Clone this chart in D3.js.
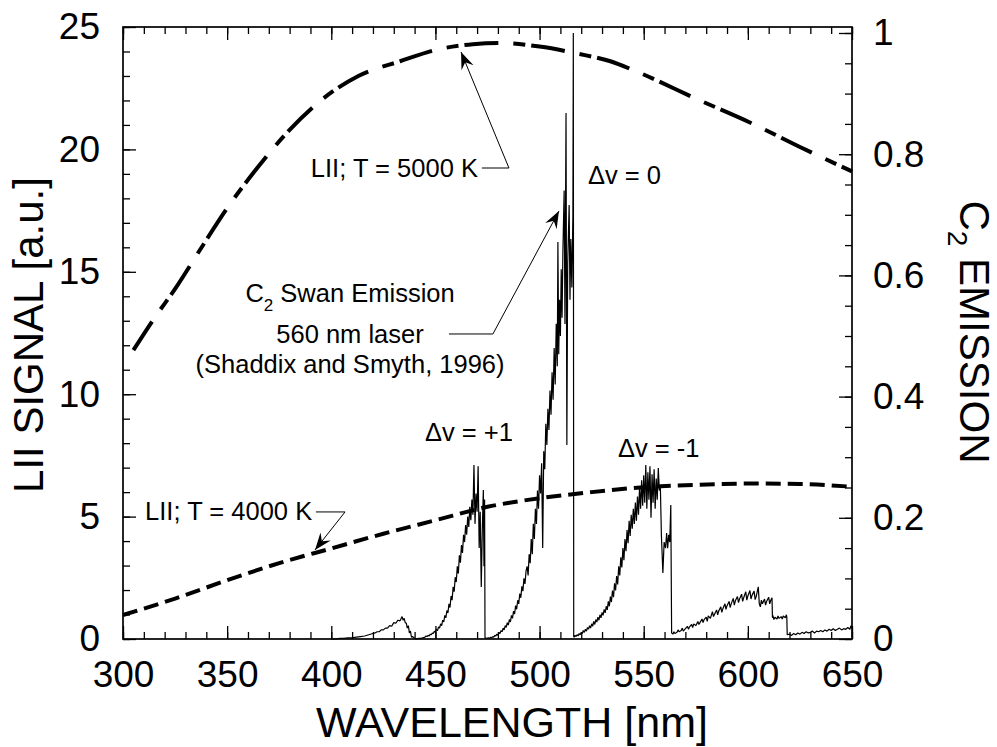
<!DOCTYPE html>
<html>
<head>
<meta charset="utf-8">
<script src="https://cdn.jsdelivr.net/npm/d3@7"></script>
<style>
  body { margin: 0; background: #fff; }
  text { font-family: "Liberation Sans", Arial, sans-serif; fill: #000; }
</style>
</head>
<body>
<div id="chart"></div>
<script>
// LII curves (left axis, a.u.)
var lii5000 = [[305, 11.8], [315, 13.1], [325, 14.3], [337, 15.9], [350, 17.6], [365, 19.3], [380, 20.8],
  [395, 22.0], [413, 23.0], [433, 23.6], [452, 24.1], [468, 24.3], [481, 24.35], [500, 24.2], [519, 23.9],
  [534, 23.6], [546, 23.2], [577, 22.0], [601, 21.1], [625, 20.1], [650, 19.1]];

var lii4000 = [[300, 0.98], [325, 1.65], [350, 2.4], [375, 3.1], [400, 3.7], [425, 4.3], [450, 4.85],
  [475, 5.4], [500, 5.75], [525, 6.0], [550, 6.2], [575, 6.3], [600, 6.35], [625, 6.33], [650, 6.22]];

// C2 Swan emission spectrum (right axis), split by band
var bandPlus1 = [[400, 0.000], [402, 0.000], [404, 0.001], [406, 0.001], [408, 0.002], [410, 0.002], [412, 0.003],
  [414, 0.004], [416, 0.005], [418, 0.007], [420, 0.009], [421, 0.010], [422, 0.012], [423, 0.012], [424, 0.015],
  [425, 0.015], [426, 0.018], [427, 0.018], [428, 0.022], [429, 0.021], [430, 0.027], [431, 0.026], [432, 0.031],
  [433, 0.030], [434, 0.037], [434.5, 0.031], [435, 0.034], [435.5, 0.027], [436, 0.026], [436.5, 0.018],
  [437, 0.022], [437.5, 0.010], [438, 0.013], [438.5, 0.003], [439, 0.004], [440, 0.001], [441, 0.000],
  [442, 0.001], [443, 0.001], [444, 0.002], [445, 0.003], [445.5, 0.005], [446, 0.004], [446.5, 0.006],
  [447, 0.005], [447.5, 0.008], [448, 0.007], [448.5, 0.010], [449, 0.009], [449.5, 0.013], [450, 0.011],
  [450.5, 0.016], [451, 0.014], [451.5, 0.020], [452, 0.018], [452.5, 0.025], [453, 0.022], [453.5, 0.031],
  [454, 0.028], [454.5, 0.039], [455, 0.035], [455.5, 0.047], [456, 0.043], [456.5, 0.058], [457, 0.052],
  [457.5, 0.071], [458, 0.064], [458.5, 0.086], [459, 0.078], [459.5, 0.102], [460, 0.094], [460.5, 0.120],
  [461, 0.108], [461.5, 0.138], [462, 0.126], [462.5, 0.155], [463, 0.142], [463.5, 0.172], [464, 0.160],
  [464.5, 0.188], [465, 0.172], [465.5, 0.202], [466, 0.185], [466.5, 0.218], [467, 0.196], [467.5, 0.230],
  [468, 0.205], [468.5, 0.287], [469, 0.190], [469.5, 0.240], [470, 0.210], [470.5, 0.285], [471, 0.150],
  [471.5, 0.210], [472, 0.086], [472.5, 0.180], [473, 0.246], [473.3, 0.120], [473.6, 0.230], [473.8, 0.002]];

var bandZero = [[474.5, 0.001], [475.5, 0.002], [476, 0.001], [476.5, 0.003], [477, 0.002], [477.5, 0.004],
  [478, 0.003], [478.5, 0.006], [479, 0.005], [479.5, 0.008], [480, 0.006], [480.5, 0.011], [481, 0.009],
  [481.5, 0.014], [482, 0.012], [482.5, 0.018], [483, 0.015], [483.5, 0.022], [484, 0.019], [484.5, 0.027],
  [485, 0.023], [485.5, 0.032], [486, 0.028], [486.5, 0.039], [487, 0.034], [487.5, 0.046], [488, 0.041],
  [488.5, 0.055], [489, 0.049], [489.5, 0.064], [490, 0.058], [490.5, 0.075], [491, 0.068], [491.5, 0.087],
  [492, 0.079], [492.5, 0.100], [493, 0.091], [493.5, 0.112], [494, 0.120], [494.5, 0.105], [495, 0.140],
  [495.5, 0.125], [496, 0.165], [496.5, 0.140], [497, 0.190], [497.5, 0.165], [498, 0.215], [498.5, 0.190],
  [499, 0.245], [499.5, 0.215], [500, 0.270], [500.5, 0.240], [501, 0.290], [501.5, 0.150], [502, 0.310],
  [502.5, 0.280], [503, 0.355], [503.5, 0.320], [504, 0.380], [504.5, 0.345], [505, 0.410], [505.5, 0.370],
  [506, 0.440], [506.5, 0.395], [507, 0.480], [507.5, 0.420], [508, 0.520], [508.5, 0.450], [508.8, 0.655],
  [509.2, 0.470], [509.6, 0.560], [510, 0.500], [510.4, 0.610], [510.8, 0.530], [511.2, 0.640], [511.8, 0.740],
  [512.2, 0.520], [512.7, 0.868], [513.1, 0.320], [513.5, 0.620], [514.2, 0.716], [514.6, 0.560], [515, 0.660],
  [515.5, 0.580], [516, 0.700], [516.2, 1.000], [516.4, 0.004]];

var bandMinus1 = [[516.6, 0.003], [517, 0.006], [517.5, 0.004], [518, 0.007], [518.5, 0.005], [519, 0.009],
  [519.5, 0.007], [520, 0.011], [520.5, 0.009], [521, 0.014], [521.5, 0.011], [522, 0.016], [522.5, 0.013],
  [523, 0.019], [523.5, 0.016], [524, 0.022], [524.5, 0.018], [525, 0.025], [525.5, 0.021], [526, 0.029],
  [526.5, 0.024], [527, 0.032], [527.5, 0.028], [528, 0.036], [528.5, 0.031], [529, 0.040], [529.5, 0.035],
  [530, 0.044], [530.5, 0.039], [531, 0.049], [531.5, 0.043], [532, 0.054], [532.5, 0.048], [533, 0.062],
  [533.5, 0.054], [534, 0.070], [534.5, 0.061], [535, 0.080], [535.5, 0.069], [536, 0.092], [536.5, 0.080],
  [537, 0.104], [537.5, 0.090], [538, 0.120], [538.5, 0.105], [539, 0.135], [539.5, 0.118], [540, 0.150],
  [540.5, 0.130], [541, 0.165], [541.5, 0.145], [542, 0.180], [542.5, 0.158], [543, 0.195], [543.5, 0.170],
  [544, 0.205], [544.5, 0.182], [545, 0.215], [545.5, 0.190], [546, 0.225], [546.5, 0.195], [547, 0.235],
  [547.5, 0.205], [548, 0.250], [548.5, 0.215], [549, 0.262], [549.5, 0.220], [550, 0.270], [550.5, 0.225],
  [551, 0.287], [551.5, 0.215], [552, 0.275], [552.5, 0.230], [553, 0.285], [553.5, 0.200], [554, 0.272],
  [554.5, 0.225], [555, 0.280], [555.5, 0.215], [556, 0.265], [556.5, 0.230], [557, 0.282], [557.5, 0.245],
  [558, 0.250], [558.5, 0.170], [559.2, 0.109], [559.8, 0.160], [560.5, 0.150], [561, 0.175], [561.5, 0.150],
  [562, 0.172], [562.5, 0.160], [563, 0.221], [563.4, 0.010]];

var bandTail = [[564, 0.008], [564.5, 0.012], [565, 0.009], [566, 0.011], [566.5, 0.015], [567, 0.012],
  [568, 0.014], [568.5, 0.018], [569, 0.013], [570, 0.017], [571, 0.021], [571.5, 0.016], [572, 0.020],
  [573, 0.024], [573.5, 0.019], [574, 0.025], [575, 0.022], [576, 0.029], [576.5, 0.024], [577, 0.027],
  [578, 0.033], [578.5, 0.027], [579, 0.032], [580, 0.036], [580.5, 0.029], [581, 0.038], [582, 0.034],
  [583, 0.045], [583.5, 0.037], [584, 0.041], [585, 0.048], [585.5, 0.040], [586, 0.046], [587, 0.053],
  [587.5, 0.044], [588, 0.050], [589, 0.058], [589.5, 0.049], [590, 0.055], [591, 0.062], [591.5, 0.052],
  [592, 0.058], [593, 0.067], [593.5, 0.056], [594, 0.063], [595, 0.070], [595.5, 0.060], [596, 0.066],
  [597, 0.074], [597.5, 0.062], [598, 0.068], [599, 0.078], [599.5, 0.064], [600, 0.071], [601, 0.080],
  [601.5, 0.066], [602, 0.072], [603, 0.079], [603.5, 0.065], [604, 0.070], [605, 0.086], [605.5, 0.058],
  [606, 0.053], [606.5, 0.064], [607, 0.058], [608, 0.066], [608.5, 0.056], [609, 0.062], [610, 0.069],
  [610.5, 0.058], [611, 0.064], [611.6, 0.068], [611.8, 0.035], [612, 0.039], [612.5, 0.032], [613, 0.036],
  [614, 0.033], [614.5, 0.038], [615, 0.034], [616, 0.037], [616.5, 0.033], [617, 0.038], [618, 0.035],
  [618.5, 0.040], [618.7, 0.036], [618.9, 0.007], [620, 0.008], [621, 0.006], [622, 0.009], [623, 0.007],
  [624, 0.010], [625, 0.008], [626, 0.011], [627, 0.009], [628, 0.012], [629, 0.010], [630, 0.011],
  [631, 0.013], [632, 0.010], [633, 0.013], [634, 0.012], [635, 0.014], [636, 0.012], [637, 0.015],
  [638, 0.013], [639, 0.016], [640, 0.014], [641, 0.017], [642, 0.014], [643, 0.016], [644, 0.018],
  [645, 0.015], [646, 0.017], [647, 0.016], [648, 0.019], [649, 0.016], [649.5, 0.022], [650, 0.018]];

// tick values
var xMajor = [300, 350, 400, 450, 500, 550, 600, 650];
var yLeftMajor = [0, 5, 10, 15, 20, 25];
var yRightMajor = [0, 0.2, 0.4, 0.6, 0.8, 1];

// annotations, placed in data coordinates (wavelength, left-axis value)
var notes = [
  { text: "LII; T = 5000 K", x: 470.4, y: 18.87, anchor: "end" },
  { text: "LII; T = 4000 K", x: 310.6, y: 4.86, anchor: "start" },
  { text: "560 nm laser", x: 409, y: 12.09, anchor: "middle" },
  { text: "(Shaddix and Smyth, 1996)", x: 409, y: 10.87, anchor: "middle" },
  { text: "\u0394v = +1", x: 445, y: 8.09, anchor: "start" },
  { text: "\u0394v = 0", x: 523.2, y: 18.59, anchor: "start" },
  { text: "\u0394v = -1", x: 537.6, y: 7.43, anchor: "start" }
];
var leaders = [
  [[472.3, 19.24], [485.3, 19.24], [462.3, 23.98]],
  [[392.6, 5.19], [406.6, 5.19], [392.2, 3.64]],
  [[456.5, 12.46], [477.6, 12.46], [509.3, 17.48]]
];

var margin = { top: 27, right: 145, bottom: 108, left: 123 },
    width = 997 - margin.left - margin.right,
    height = 747 - margin.top - margin.bottom;

var svg = d3.select("#chart")
    .append("svg")
    .attr("width", 997)
    .attr("height", 747)
    .append("g")
    .attr("transform", "translate(" + margin.left + "," + margin.top + ")");

var x = d3.scaleLinear().domain([300, 650]).range([0, width]);
var yL = d3.scaleLinear().domain([0, 25]).range([height, 0]);
var yR = d3.scaleLinear().domain([0, 1]).range([height, 6]);

var fmtR = function (d) { return (d === 0 || d === 1) ? String(d) : d.toFixed(1); };

// minor ticks
svg.append("g").attr("class", "ax")
    .attr("transform", "translate(0," + height + ")")
    .call(d3.axisBottom(x).tickValues(d3.range(300, 651, 10)).tickSize(-7).tickSizeOuter(0).tickFormat(""));
svg.append("g").attr("class", "ax")
    .call(d3.axisTop(x).tickValues(d3.range(300, 651, 10)).tickSize(-7).tickSizeOuter(0).tickFormat(""));
svg.append("g").attr("class", "ax")
    .call(d3.axisLeft(yL).tickValues(d3.range(0, 26, 1)).tickSize(-7).tickSizeOuter(0).tickFormat(""));
svg.append("g").attr("class", "ax")
    .attr("transform", "translate(" + width + ",0)")
    .call(d3.axisRight(yR).tickValues(d3.range(0, 21).map(function (i) { return i * 0.05; })).tickSize(-7).tickSizeOuter(0).tickFormat(""));

// major ticks with labels
svg.append("g").attr("class", "ax lab")
    .attr("transform", "translate(0," + height + ")")
    .call(d3.axisBottom(x).tickValues(xMajor).tickSize(-13).tickSizeOuter(0).tickPadding(22).tickFormat(d3.format("d")));
svg.append("g").attr("class", "ax")
    .call(d3.axisTop(x).tickValues(xMajor).tickSize(-13).tickSizeOuter(0).tickFormat(""));
svg.append("g").attr("class", "ax lab")
    .call(d3.axisLeft(yL).tickValues(yLeftMajor).tickSize(-13).tickSizeOuter(0).tickPadding(23).tickFormat(d3.format("d")));
svg.append("g").attr("class", "ax lab")
    .attr("transform", "translate(" + width + ",0)")
    .call(d3.axisRight(yR).tickValues(yRightMajor).tickSize(-13).tickSizeOuter(0).tickPadding(21).tickFormat(fmtR));

svg.selectAll(".ax .domain").remove();
svg.selectAll(".ax line").attr("stroke", "#000").attr("stroke-width", 1.3);
svg.selectAll(".lab text")
    .style("font-family", "'Liberation Sans', Arial, sans-serif")
    .style("font-size", "37px")
    .attr("fill", "#000");

// frame
svg.append("rect")
    .attr("width", width)
    .attr("height", height)
    .attr("fill", "none")
    .attr("stroke", "#000")
    .attr("stroke-width", 1.7);

// spectrum
var spectrum = bandPlus1.concat(bandZero, bandMinus1, bandTail);
svg.append("path")
    .datum(spectrum)
    .attr("fill", "none")
    .attr("stroke", "#000")
    .attr("stroke-width", 1.2)
    .attr("stroke-linejoin", "bevel")
    .attr("d", d3.line()
        .x(function (d) { return x(d[0]); })
        .y(function (d) { return yR(d[1]); }));

// LII curves
var liiLine = d3.line()
    .curve(d3.curveMonotoneX)
    .x(function (d) { return x(d[0]); })
    .y(function (d) { return yL(d[1]); });

svg.append("path")
    .datum(lii5000)
    .attr("fill", "none")
    .attr("stroke", "#000")
    .attr("stroke-width", 4)
    .attr("stroke-dasharray", "34,15,12,6")
    .attr("d", liiLine);

svg.append("path")
    .datum(lii4000)
    .attr("fill", "none")
    .attr("stroke", "#000")
    .attr("stroke-width", 4)
    .attr("stroke-dasharray", "15,7")
    .attr("d", liiLine);

// arrow marker
var defs = d3.select("svg").append("defs");
defs.append("marker")
    .attr("id", "arrow")
    .attr("markerUnits", "userSpaceOnUse")
    .attr("viewBox", "-18 -8 20 16")
    .attr("markerWidth", 20)
    .attr("markerHeight", 16)
    .attr("refX", 0)
    .attr("refY", 0)
    .attr("orient", "auto")
    .append("path")
    .attr("d", "M0,0 L-17,-6.5 L-11,0 L-17,6.5 Z")
    .attr("fill", "#000");

svg.selectAll(".leader")
    .data(leaders)
    .enter()
    .append("path")
    .attr("class", "leader")
    .attr("fill", "none")
    .attr("stroke", "#000")
    .attr("stroke-width", 1)
    .attr("marker-end", "url(#arrow)")
    .attr("d", d3.line()
        .x(function (d) { return x(d[0]); })
        .y(function (d) { return yL(d[1]); }));

// annotation texts
svg.selectAll(".note")
    .data(notes)
    .enter()
    .append("text")
    .attr("class", "note")
    .attr("x", function (d) { return x(d.x); })
    .attr("y", function (d) { return yL(d.y); })
    .attr("text-anchor", function (d) { return d.anchor; })
    .style("font-size", "25.5px")
    .text(function (d) { return d.text; });

var swan = svg.append("text")
    .attr("x", x(409))
    .attr("y", yL(13.77))
    .attr("text-anchor", "middle")
    .style("font-size", "25.5px");
swan.append("tspan").text("C");
swan.append("tspan").attr("dy", 9).style("font-size", "17px").text("2");
swan.append("tspan").attr("dy", -9).text(" Swan Emission");

// axis titles
svg.append("text")
    .attr("x", 512 - margin.left)
    .attr("y", height + 98)
    .attr("text-anchor", "middle")
    .style("font-size", "43px")
    .text("WAVELENGTH [nm]");

svg.append("text")
    .attr("transform", "translate(" + (43 - margin.left) + "," + (335 - margin.top) + ") rotate(-90)")
    .attr("text-anchor", "middle")
    .style("font-size", "42px")
    .text("LII SIGNAL [a.u.]");

var rt = svg.append("text")
    .attr("transform", "translate(" + (960 - margin.left) + "," + (332 - margin.top) + ") rotate(90)")
    .attr("text-anchor", "middle")
    .style("font-size", "42px");
rt.append("tspan").text("C");
rt.append("tspan").attr("dy", 12).style("font-size", "28px").text("2");
rt.append("tspan").attr("dy", -12).text(" EMISSION");
</script>
</body>
</html>
